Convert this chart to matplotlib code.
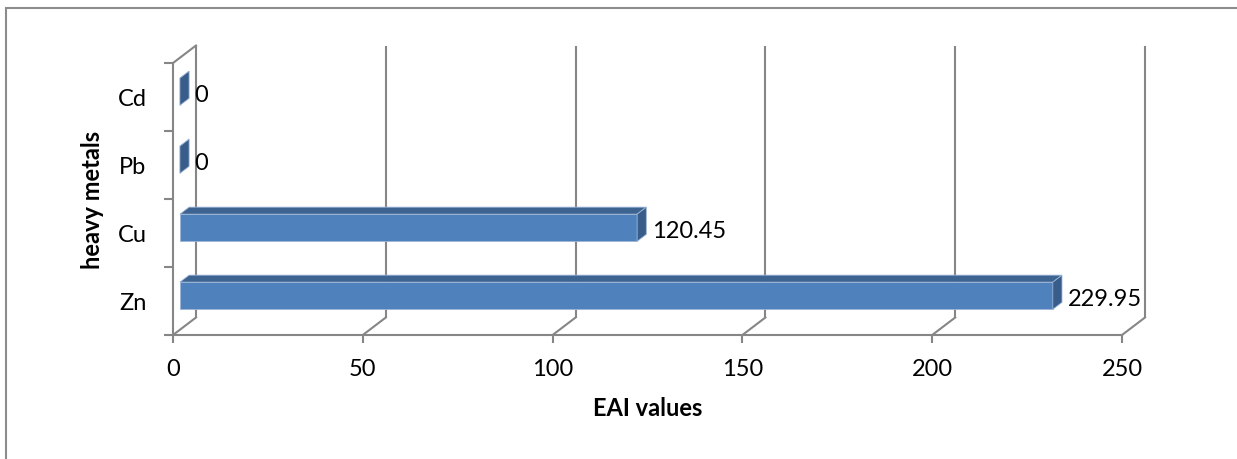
import matplotlib
matplotlib.use("Agg")
import matplotlib.pyplot as plt
from matplotlib.patches import Polygon, Rectangle

# EAI values per heavy metal (bottom to top)
metals = ["Zn", "Cu", "Pb", "Cd"]
eai_values = [229.95, 120.45, 0, 0]
x_ticks = [0, 50, 100, 150, 200, 250]
x_max = 250

W, H = 1237, 459
GRID = "#868686"
FRONT = "#4F81BD"
TOP = "#3D6391"
SIDE = "#385D8A"
FS = 17

plt.rcParams["font.family"] = ["Lato", "DejaVu Sans"]

fig = plt.figure(figsize=(W / 100, H / 100), dpi=100)
ax = fig.add_axes([173 / W, (H - 335) / H, 949 / W, 272 / H])
ax.set_xlim(0, x_max)
ax.set_ylim(0, len(metals))

# oblique depth vector (pixels) converted to data units
px_x = 949 / x_max
px_y = 272 / len(metals)
ddx = 23 / px_x
ddy = 17.5 / px_y

# back wall gridlines and floor diagonals
for v in x_ticks:
    ax.plot([v + ddx, v + ddx], [ddy, len(metals) + ddy], color=GRID, lw=1.5,
            zorder=1, clip_on=False, solid_capstyle="butt")
    ax.plot([v, v + ddx], [0, ddy], color=GRID, lw=1.5, zorder=1, clip_on=False)
# side wall top edge
ax.plot([0, ddx], [len(metals), len(metals) + ddy], color=GRID, lw=1.5,
        zorder=1, clip_on=False)

# 3d bars
h = 0.2
f, b = 0.3, 0.7
for i, v in enumerate(eai_values):
    y0, y1 = i + 0.5 - h, i + 0.5 + h
    front = [(f * ddx, y0 + f * ddy), (v + f * ddx, y0 + f * ddy),
             (v + f * ddx, y1 + f * ddy), (f * ddx, y1 + f * ddy)]
    top = [(f * ddx, y1 + f * ddy), (v + f * ddx, y1 + f * ddy),
           (v + b * ddx, y1 + b * ddy), (b * ddx, y1 + b * ddy)]
    side = [(v + f * ddx, y0 + f * ddy), (v + b * ddx, y0 + b * ddy),
            (v + b * ddx, y1 + b * ddy), (v + f * ddx, y1 + f * ddy)]
    for pts, col in ((top, TOP), (front, FRONT), (side, SIDE)):
        ax.add_patch(Polygon(pts, closed=True, facecolor=col, edgecolor="#9DB5D6",
                             lw=0.6, zorder=3, clip_on=False))
    ax.annotate(f"{v:g}", xy=(v + b * ddx, i + 0.5 + f * ddy), xytext=(4, -2.5),
                textcoords="offset points", va="center", ha="left",
                fontsize=FS, zorder=4, annotation_clip=False)

for side_name in ("top", "right"):
    ax.spines[side_name].set_visible(False)
for side_name in ("bottom", "left"):
    ax.spines[side_name].set_color(GRID)
    ax.spines[side_name].set_linewidth(1.5)
    ax.spines[side_name].set_zorder(2)

ax.set_xticks(x_ticks)
ax.set_xticklabels([str(t) for t in x_ticks])
ax.tick_params(axis="x", direction="out", length=6, width=1.5, color=GRID,
               labelsize=FS, pad=11)
ax.set_yticks(range(len(metals) + 1))
ax.set_yticklabels([])
ax.tick_params(axis="y", which="major", direction="out", length=6.5, width=1.5,
               color=GRID)
ax.set_yticks([i + 0.5 for i in range(len(metals))], minor=True)
ax.set_yticklabels(metals, minor=True)
ax.tick_params(axis="y", which="minor", length=0, labelsize=FS, pad=19)
ax.patch.set_visible(False)

fig.text(93 / W, 1 - 200 / H, "heavy metals", rotation=90, ha="center",
         va="center", fontsize=FS, fontweight="bold")
fig.text(648 / W, 1 - 408 / H, "EAI values", ha="center", va="center",
         fontsize=FS, fontweight="bold")

# chart area border
fig.add_artist(Rectangle((5.5 / W, -0.1), 1.2, 1.1 - 8 / H,
                         transform=fig.transFigure, fill=False,
                         edgecolor="#8C8C8C", lw=1.5))

fig.savefig("out.png", dpi=100)
